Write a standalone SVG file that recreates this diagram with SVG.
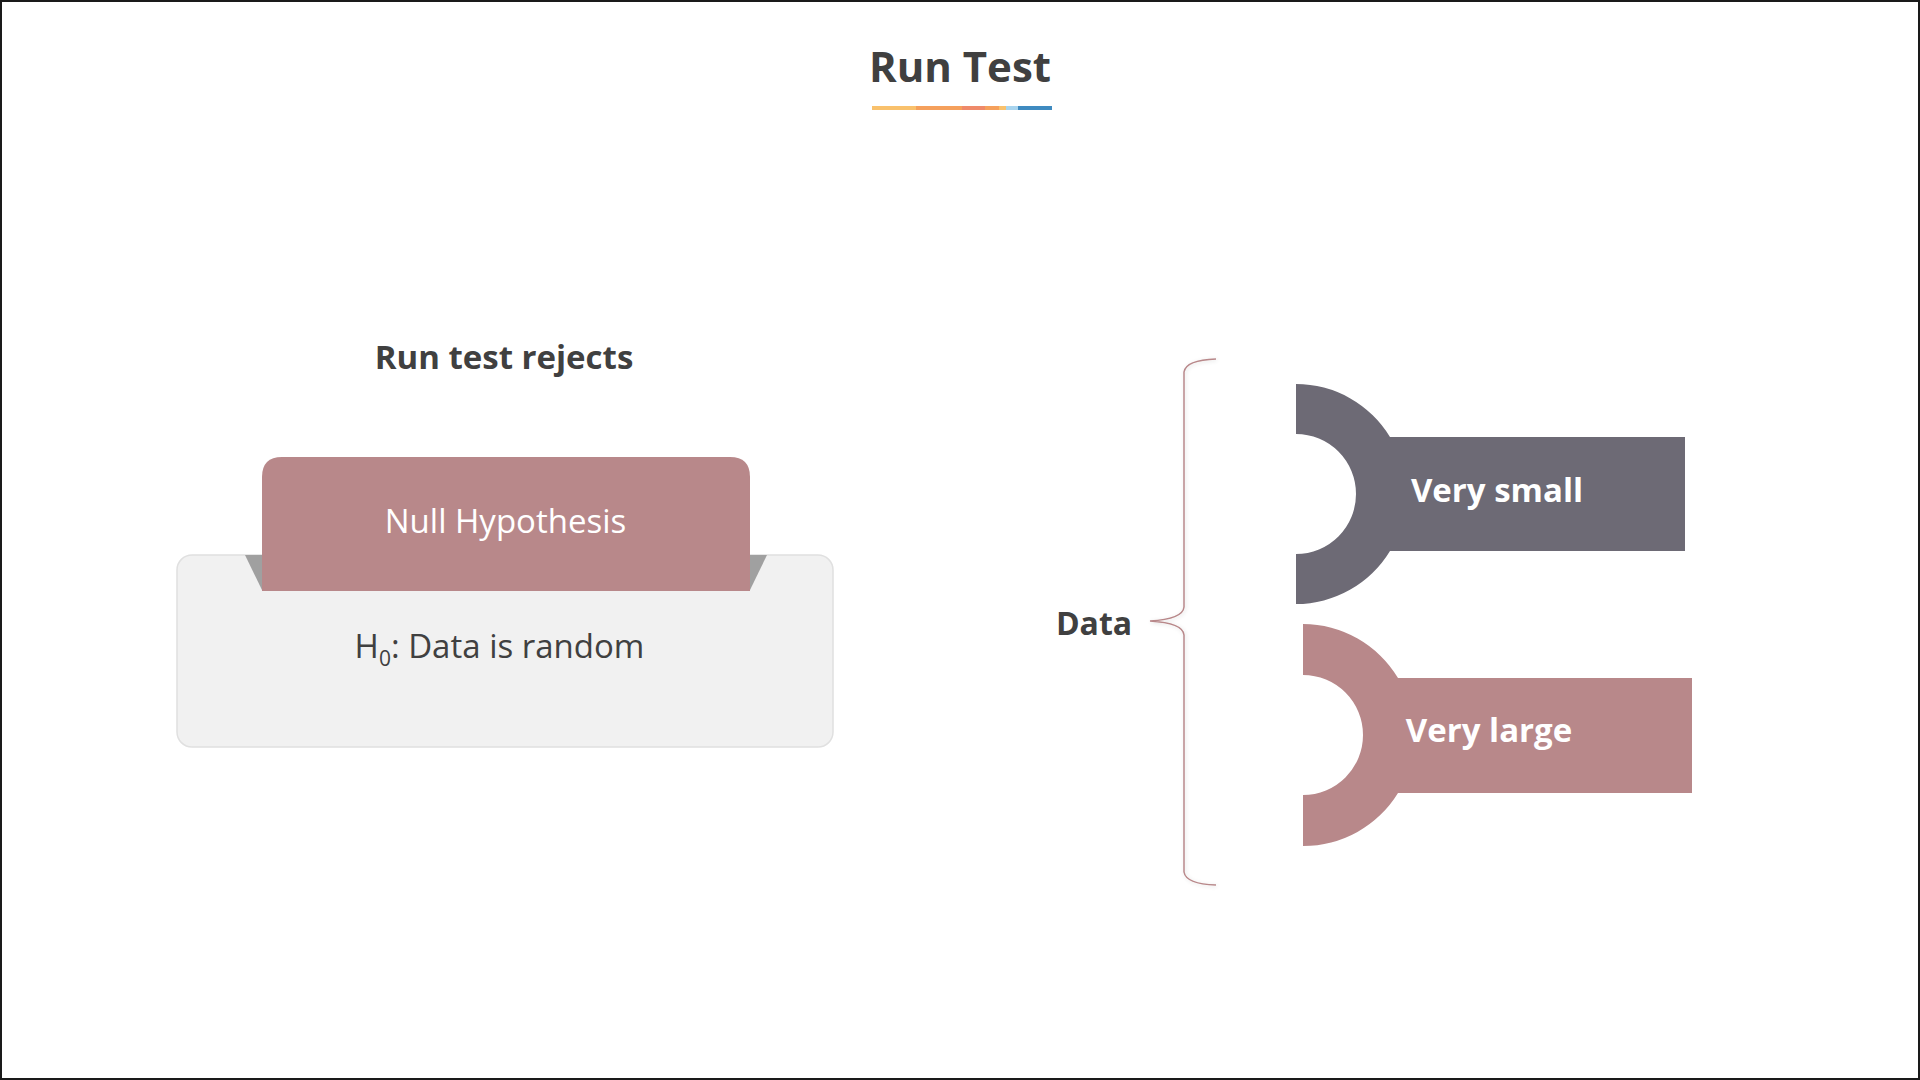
<svg xmlns="http://www.w3.org/2000/svg" width="1920" height="1080" viewBox="0 0 1920 1080">
<defs>
<style>
.t{font-family:"Open Sans","Liberation Sans",sans-serif;}
.b{font-weight:700;}
.dark{fill:#404040;}
.wt{fill:#ffffff;}
</style>
<filter id="sh" x="-20%" y="-5%" width="140%" height="110%">
<feGaussianBlur in="SourceAlpha" stdDeviation="2"/>
<feOffset dx="1" dy="1"/>
<feComponentTransfer><feFuncA type="linear" slope="0.15"/></feComponentTransfer>
<feMerge><feMergeNode/><feMergeNode in="SourceGraphic"/></feMerge>
</filter>
</defs>
<rect x="0" y="0" width="1920" height="1080" fill="#ffffff"/>
<rect x="1" y="1" width="1918" height="1078" fill="none" stroke="#1a1a1a" stroke-width="2"/>

<g id="title">
<text class="t b dark" x="960" y="82" font-size="42" text-anchor="middle">Run Test</text>
<rect x="872" y="106" width="44" height="4" fill="#f9c16c"/>
<rect x="916" y="106" width="46" height="4" fill="#f5a05c"/>
<rect x="962" y="106" width="23" height="4" fill="#ef8a6a"/>
<rect x="985" y="106" width="14" height="4" fill="#f5a05c"/>
<rect x="999" y="106" width="7" height="4" fill="#f9c16c"/>
<rect x="1006" y="106" width="12" height="4" fill="#a8d4ee"/>
<rect x="1018" y="106" width="34" height="4" fill="#3e8ac0"/>
</g>

<g id="rejects-label">
<text class="t b dark" x="504" y="369" font-size="33" text-anchor="middle">Run test rejects</text>
</g>

<g id="null-hypothesis">
<rect x="177" y="555" width="656" height="192" rx="15" ry="15" fill="#f1f1f1" stroke="#e0e0e0" stroke-width="1.5"/>
<polygon points="245,555 262,555 262,590" fill="#a0a0a0"/>
<polygon points="750,555 767,555 750,590" fill="#a0a0a0"/>
<path d="M262,591 L262,477 Q262,457 282,457 L730,457 Q750,457 750,477 L750,591 Z" fill="#b8888a"/>
<text class="t wt" x="505.5" y="533" font-size="33" text-anchor="middle">Null Hypothesis</text>
<text class="t dark" x="499.5" y="658" font-size="33" text-anchor="middle">H<tspan font-size="21" dy="8">0</tspan><tspan dy="-8">: Data is random</tspan></text>
</g>

<g id="data-label">
<text class="t b dark" x="1094" y="635" font-size="32" text-anchor="middle">Data</text>
</g>

<g id="connectors">
<path d="M1216,359 Q1186,360 1184,372 L1184,607 Q1183,619 1150,621 Q1183,623 1184,635 L1184,872 Q1186,884 1216,885" fill="none" stroke="#b8888a" stroke-width="1.5" filter="url(#sh)"/>
</g>

<g id="very-small">
<path d="M1296,384 A110,110 0 0 1 1390,437 L1685,437 L1685,551 L1390,551 A110,110 0 0 1 1296,604 L1296,554 A60,60 0 0 0 1296,434 Z" fill="#6d6a75"/>
<text class="t b wt" x="1497" y="502" font-size="33" text-anchor="middle">Very small</text>
</g>

<g id="very-large">
<path d="M1303,624 A111,111 0 0 1 1398,678 L1692,678 L1692,793 L1398,793 A111,111 0 0 1 1303,846 L1303,795 A60,60 0 0 0 1303,675 Z" fill="#b8888a"/>
<text class="t b wt" x="1489" y="742" font-size="33" text-anchor="middle">Very large</text>
</g>
</svg>
